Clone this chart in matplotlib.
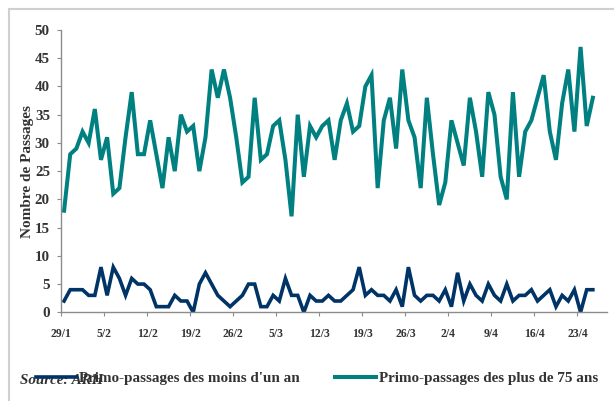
import numpy as np
import matplotlib
matplotlib.use("Agg")
import matplotlib.pyplot as plt
from matplotlib.patches import Rectangle

# données (lecture du graphique), une valeur par jour du 29/1 au 25/4
plus_75 = [18, 28, 29, 32, 30, 36, 27, 31, 21, 22,
           31, 39, 28, 28, 34, 28, 22, 31, 25, 35,
           32, 33, 25, 31, 43, 38, 43, 38, 31, 23,
           24, 38, 27, 28, 33, 34, 27, 17, 35, 24,
           33, 31, 33, 34, 27, 34, 37, 32, 33, 40,
           42, 22, 34, 38, 29, 43, 34, 31, 22, 38,
           28, 19, 23, 34, 30, 26, 38, 32, 24, 39,
           35, 24, 20, 39, 24, 32, 34, 38, 42, 32,
           27, 37, 43, 32, 47, 33, 38]
moins_1an = [2, 4, 4, 4, 3, 3, 8, 3, 8, 6,
             3, 6, 5, 5, 4, 1, 1, 1, 3, 2,
             2, 0, 5, 7, 5, 3, 2, 1, 2, 3,
             5, 5, 1, 1, 3, 2, 6, 3, 3, 0,
             3, 2, 2, 3, 2, 2, 3, 4, 8, 3,
             4, 3, 3, 2, 4, 1, 8, 3, 2, 3,
             3, 2, 4, 1, 7, 2, 5, 3, 2, 5,
             3, 2, 5, 2, 3, 3, 4, 2, 3, 4,
             1, 3, 2, 4, 0, 4, 4]
tick_labels = ["29/1", "5/2", "12/2", "19/2", "26/2", "5/3", "12/3",
               "19/3", "26/3", "2/4", "9/4", "16/4", "23/4"]

navy = "#003366"
teal = "#008080"
grey = "#8c8c8c"

fig = plt.figure(figsize=(6.14, 4.01), dpi=100)
ax = fig.add_axes([61 / 614, 1 - 312.3 / 401, 546 / 614, 282.3 / 401])

x = np.arange(len(plus_75))
ax.plot(x, moins_1an, color=navy, lw=2.6, solid_joinstyle="miter",
        label="Primo-passages des moins d'un an")
ax.plot(x, plus_75, color=teal, lw=2.9, solid_joinstyle="miter",
        label="Primo-passages des plus de 75 ans")

ax.set_xlim(-0.5, 88.3)
ax.set_ylim(0, 50)
ax.set_yticks(range(0, 51, 5))
ax.set_xticks(np.arange(len(tick_labels)) * 7 - 0.5)
ax.set_xticklabels(tick_labels)

serif = "Liberation Serif"
for lab in ax.get_yticklabels():
    lab.set_fontfamily(serif)
    lab.set_fontweight("bold")
    lab.set_fontsize(10.8)
    lab.set_color("#333333")
for lab in ax.get_xticklabels():
    lab.set_fontfamily(serif)
    lab.set_fontweight("bold")
    lab.set_fontsize(8.4)
    lab.set_color("#333333")

ax.tick_params(axis="y", length=3, width=0.8, color=grey, pad=5)
ax.tick_params(axis="x", length=3, width=0.8, color=grey, pad=8)
for s in ["top", "right"]:
    ax.spines[s].set_visible(False)
for s in ["left", "bottom"]:
    ax.spines[s].set_color(grey)
    ax.spines[s].set_linewidth(1.0)

ax.set_ylabel("Nombre de Passages", fontfamily=serif, fontweight="bold",
              fontsize=11, color="#333333")
ax.yaxis.set_label_coords(-0.0495, 0.5)

# cadre gris clair autour du graphique
fig.patches.append(Rectangle((8.6 / 614, -0.1), 1.2, 1 - 9 / 401 + 0.1,
                             transform=fig.transFigure, fill=False,
                             edgecolor="#d0d0d0", lw=1.5))

fig.text(20 / 614, 1 - 381 / 401, "Source: ARH", fontfamily=serif,
         style="italic", fontweight="bold", fontsize=10.8, va="center",
         color="#333333")

leg = fig.legend(loc="center left", bbox_to_anchor=(28 / 614, 1 - 378 / 401),
                 ncol=2, frameon=False, handlelength=2.7, handletextpad=0.2,
                 columnspacing=2.3, borderpad=0,
                 prop={"family": serif, "weight": "bold", "size": 10.9})
for t in leg.get_texts():
    t.set_color("#333333")

fig.savefig("out.png", dpi=100)
